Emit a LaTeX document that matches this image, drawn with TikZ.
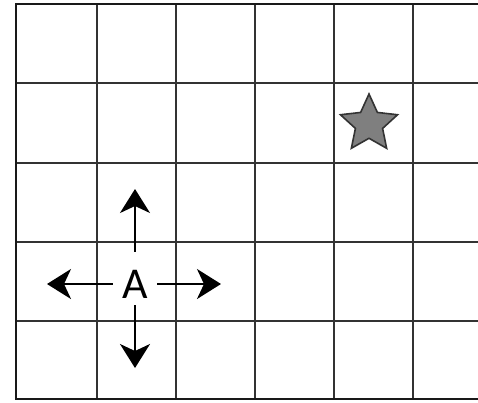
\documentclass[tikz,border=0pt]{standalone}
\usepackage{fontspec}
\setmainfont{Carlito}
\usetikzlibrary{shapes.geometric,arrows.meta}
\definecolor{gridline}{HTML}{333333}
\definecolor{stargray}{HTML}{7F7F7F}
\tikzset{
  gridl/.style={draw=gridline,line width=1.8pt},
  border/.style={draw=black!90,line width=2.8pt},
  arr/.style={line width=2.2pt,-{Stealth[length=24pt,width=30pt,inset=7pt]}},
  starnode/.style={star,star points=5,star point ratio=2.1,fill=stargray,draw=black!80,line width=1.6pt,minimum size=60pt,inner sep=0pt},
}
\begin{document}
\begin{tikzpicture}[x=1pt,y=-1pt]
\useasboundingbox (0,0) rectangle (478,402);
\fill[white] (0,0) rectangle (478,402);
% inner grid
\foreach \x in {97,176,255,334,413} \draw[gridl] (\x,4) -- (\x,399);
\foreach \y in {83,163,242,321} \draw[gridl] (16,\y) -- (478,\y);
% borders
\draw[border] (478,4) -- (16,4) -- (16,399) -- (478,399);
% star
\node[starnode] (star) at (369,124) {};
% A and arrows
\node[inner sep=0pt,minimum width=44pt,minimum height=42pt,font=\fontsize{44}{44}\selectfont] (A) at (135,284) {A};
\coordinate (up) at (135,189);
\coordinate (down) at (135,368);
\coordinate (left) at (47,284);
\coordinate (right) at (221,284);
\draw[arr] ([yshift=11pt]A.north) -- (up);
\draw[arr] (A.south) -- (down);
\draw[arr] (A.west) -- (left);
\draw[arr] (A.east) -- (right);
\end{tikzpicture}
\end{document}
